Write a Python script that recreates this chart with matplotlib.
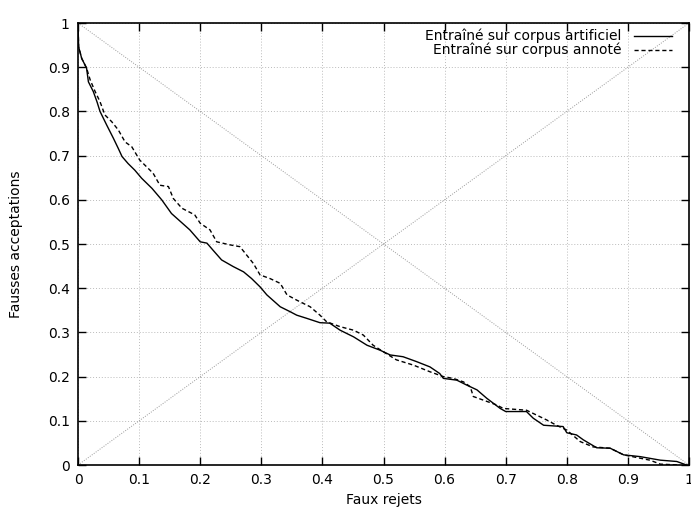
import matplotlib
matplotlib.use("Agg")
import matplotlib.pyplot as plt

plt.rcParams['font.family'] = ['DejaVu Sans']
plt.rcParams['font.size'] = 10

# courbe entraînée sur corpus artificiel
fr_artif = [0.0, 0.001, 0.006, 0.014, 0.017, 0.025, 0.031, 0.036, 0.047, 0.058,
            0.066, 0.072, 0.082, 0.093, 0.104, 0.121, 0.137, 0.153, 0.183, 0.200,
            0.211, 0.221, 0.235, 0.254, 0.271, 0.284, 0.298, 0.309, 0.331, 0.347,
            0.358, 0.374, 0.396, 0.412, 0.429, 0.451, 0.473, 0.494, 0.511, 0.532,
            0.554, 0.576, 0.592, 0.598, 0.620, 0.636, 0.653, 0.669, 0.691, 0.700,
            0.734, 0.745, 0.762, 0.794, 0.800, 0.816, 0.827, 0.849, 0.871, 0.893,
            0.920, 0.953, 0.980, 0.996]
fa_artif = [1.0, 0.946, 0.920, 0.898, 0.867, 0.845, 0.822, 0.800, 0.769, 0.739,
            0.716, 0.698, 0.682, 0.667, 0.649, 0.626, 0.600, 0.569, 0.532, 0.505,
            0.502, 0.486, 0.464, 0.449, 0.437, 0.422, 0.403, 0.385, 0.358, 0.347,
            0.339, 0.332, 0.322, 0.321, 0.305, 0.290, 0.271, 0.260, 0.249, 0.245,
            0.234, 0.222, 0.207, 0.196, 0.192, 0.181, 0.170, 0.151, 0.128, 0.121,
            0.121, 0.106, 0.090, 0.087, 0.073, 0.068, 0.057, 0.039, 0.038, 0.023,
            0.019, 0.011, 0.008, 0.0]

# courbe entraînée sur corpus annoté
fr_annot = [0.0, 0.001, 0.006, 0.014, 0.020, 0.028, 0.036, 0.044, 0.055, 0.066,
            0.077, 0.088, 0.101, 0.112, 0.123, 0.134, 0.148, 0.156, 0.170, 0.191,
            0.200, 0.216, 0.227, 0.249, 0.265, 0.276, 0.287, 0.298, 0.314, 0.331,
            0.342, 0.358, 0.380, 0.396, 0.407, 0.429, 0.451, 0.467, 0.483, 0.500,
            0.521, 0.549, 0.576, 0.598, 0.614, 0.631, 0.642, 0.647, 0.663, 0.685,
            0.696, 0.734, 0.767, 0.783, 0.800, 0.822, 0.843, 0.871, 0.893, 0.936,
            0.953, 0.985]
fa_annot = [1.0, 0.946, 0.920, 0.898, 0.871, 0.845, 0.822, 0.792, 0.777, 0.758,
            0.731, 0.720, 0.690, 0.675, 0.660, 0.633, 0.630, 0.603, 0.581, 0.566,
            0.547, 0.532, 0.505, 0.498, 0.494, 0.475, 0.456, 0.430, 0.422, 0.411,
            0.385, 0.373, 0.358, 0.339, 0.324, 0.313, 0.305, 0.294, 0.271, 0.256,
            0.238, 0.226, 0.211, 0.200, 0.196, 0.188, 0.177, 0.155, 0.147, 0.136,
            0.128, 0.124, 0.102, 0.090, 0.079, 0.053, 0.041, 0.038, 0.023, 0.011,
            0.002, 0.0]

labels = ['Entraîné sur corpus artificiel', 'Entraîné sur corpus annoté']
ticks = [0, 0.1, 0.2, 0.3, 0.4, 0.5, 0.6, 0.7, 0.8, 0.9, 1]
tick_labels = ['0', '0.1', '0.2', '0.3', '0.4', '0.5', '0.6', '0.7', '0.8', '0.9', '1']

dash_style = (0, (3, 2))
diag_style = (0, (1, 1.5))

fig = plt.figure(figsize=(6.91, 5.07), dpi=100)
ax = fig.add_axes([0.1129, 0.0828, 0.8842, 0.8718])

ax.plot([0, 1], [1, 0], color='#999999', linestyle=diag_style, linewidth=0.7)
ax.plot([0, 1], [0, 1], color='#999999', linestyle=diag_style, linewidth=0.7)

ax.plot(fr_artif, fa_artif, color='black', linewidth=1.0)
ax.plot(fr_annot, fa_annot, color='black', linewidth=1.0, linestyle=dash_style)

ax.set_xlim(0, 1)
ax.set_ylim(0, 1)
ax.set_xticks(ticks)
ax.set_xticklabels(tick_labels)
ax.set_yticks(ticks)
ax.set_yticklabels(tick_labels)
ax.tick_params(direction='in', top=True, right=True, length=6, width=1, pad=6)
for s in ax.spines.values():
    s.set_linewidth(1.2)

ax.grid(True, color='#bbbbbb', linestyle=(0, (1, 2)), linewidth=0.7)

ax.set_xlabel('Faux rejets', labelpad=4)
ax.set_ylabel('Fausses acceptations', labelpad=18)

# légende façon gnuplot : texte aligné à droite, échantillon à droite
styles = ['-', dash_style]
for i, (lab, ls) in enumerate(zip(labels, styles)):
    yy = 0.971 - i * 0.032
    ax.text(0.889, yy, lab, transform=ax.transAxes, ha='right', va='center',
            fontsize=10)
    ax.plot([0.910, 0.972], [yy, yy], transform=ax.transAxes, color='black',
            linewidth=1.0, linestyle=ls)

fig.savefig('out.png', dpi=100)
plt.close(fig)
